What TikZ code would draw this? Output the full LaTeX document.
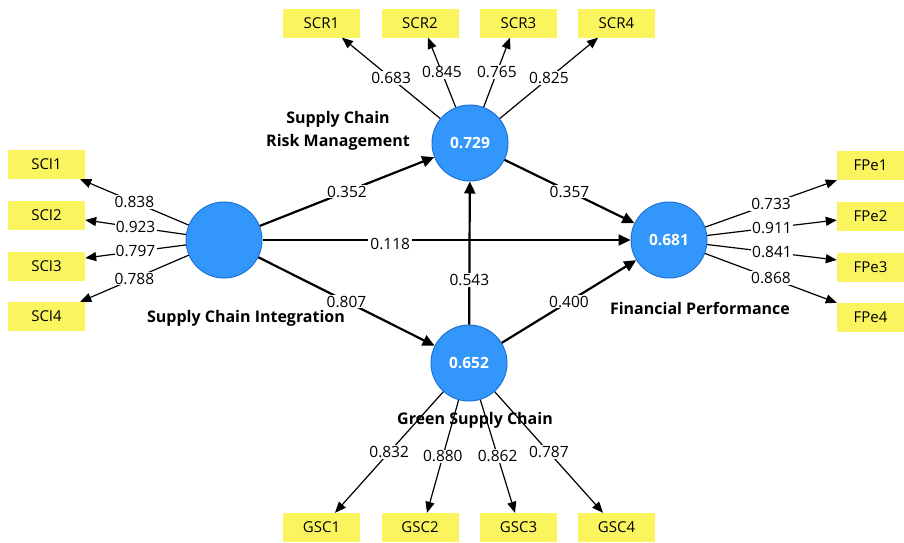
\documentclass[tikz,border=0pt]{standalone}
\usepackage{fontspec}
\setmainfont{Open Sans}
\usetikzlibrary{arrows.meta}
\definecolor{lvfill}{RGB}{50,150,250}
\definecolor{lvdraw}{RGB}{30,115,215}
\definecolor{mvfill}{RGB}{250,245,95}
\tikzset{
  lv/.style={circle, minimum size=76pt, inner sep=0pt, fill=lvfill, draw=lvdraw, line width=1pt,
    text=white, font=\fontsize{15.5}{18}\selectfont\bfseries},
  mv/.style={rectangle, minimum width=77pt, minimum height=29pt, inner sep=0pt, fill=mvfill,
    font=\fontsize{15}{18}\selectfont},
  mvr/.style={mv, minimum width=67pt},
  outer/.style={line width=1.2pt, -{Triangle[length=11pt,width=9pt]}},
  inner/.style={line width=2.2pt, -{Triangle[length=12pt,width=11pt]}},
  lbl/.style={fill=white, inner sep=1.2pt, font=\fontsize{15.5}{18}\selectfont},
  title/.style={font=\fontsize{16}{23}\selectfont\bfseries, align=center, inner sep=0pt}
}
\begin{document}
\begin{tikzpicture}[x=1pt,y=-1pt]
\useasboundingbox[fill=white] (0,0) rectangle (904,542);
% latent variables
\node[lv] (SCI) at (224,240) {};
\node[lv] (SCR) at (470,143) {0.729};
\node[lv] (FP) at (669,240) {0.681};
\node[lv] (GSC) at (469,363) {0.652};
% indicators
\node[mv] (SCI1) at (46.5,164.5) {SCI1};
\node[mv] (SCI2) at (46.5,215.5) {SCI2};
\node[mv] (SCI3) at (46.5,266) {SCI3};
\node[mv] (SCI4) at (46.5,316.5) {SCI4};
\node[mv] (SCR1) at (321.5,23) {SCR1};
\node[mv] (SCR2) at (420,23) {SCR2};
\node[mv] (SCR3) at (518.5,23) {SCR3};
\node[mv] (SCR4) at (616.5,23) {SCR4};
\node[mvr] (FPe1) at (870.5,165.5) {FPe1};
\node[mvr] (FPe2) at (870.5,216) {FPe2};
\node[mvr] (FPe3) at (870.5,267) {FPe3};
\node[mvr] (FPe4) at (870.5,317.5) {FPe4};
\node[mv] (GSC1) at (321.5,527.5) {GSC1};
\node[mv] (GSC2) at (420,527.5) {GSC2};
\node[mv] (GSC3) at (518.5,527.5) {GSC3};
\node[mv] (GSC4) at (616.5,527.5) {GSC4};
% outer loadings
\draw[outer] (SCI) -- node[lbl] (l1) {0.838} ([xshift=-5pt]SCI1.south east);
\draw[outer] (SCI) -- node[lbl] (l2) {0.923} ([yshift=-4.5pt]SCI2.east);
\draw[outer] (SCI) -- node[lbl] (l3) {0.797} ([yshift=8pt]SCI3.east);
\draw[outer] (SCI) -- node[lbl] (l4) {0.788} ([xshift=-5pt]SCI4.north east);
\draw[outer] (SCR) -- node[lbl] (l5) {0.683} ([xshift=20.5pt]SCR1.south);
\draw[outer] (SCR) -- node[lbl] (l6) {0.845} ([xshift=8pt]SCR2.south);
\draw[outer] (SCR) -- node[lbl] (l7) {0.765} ([xshift=-8.5pt]SCR3.south);
\draw[outer] (SCR) -- node[lbl] (l8) {0.825} ([xshift=-18.5pt]SCR4.south);
\draw[outer] (FP) -- node[lbl] (l9) {0.733} (FPe1.south west);
\draw[outer] (FP) -- node[lbl] (l10) {0.911} ([yshift=-4pt]FPe2.west);
\draw[outer] (FP) -- node[lbl] (l11) {0.841} ([yshift=7pt]FPe3.west);
\draw[outer] (FP) -- node[lbl] (l12) {0.868} (FPe4.north west);
\draw[outer] (GSC) -- node[lbl] (l13) {0.832} ([xshift=13.5pt]GSC1.north);
\draw[outer] (GSC) -- node[lbl] (l14) {0.880} ([xshift=7pt]GSC2.north);
\draw[outer] (GSC) -- node[lbl] (l15) {0.862} ([xshift=-3.5pt]GSC3.north);
\draw[outer] (GSC) -- node[lbl] (l16) {0.787} ([xshift=-13.5pt]GSC4.north);
% structural paths
\draw[inner] (SCI) -- node[lbl] (p1) {0.352} (SCR);
\draw[inner] (SCI) -- node[lbl, pos=0.347, yshift=-4pt, inner sep=2pt] (p2) {0.118} (FP);
\draw[inner] (SCI) -- node[lbl] (p3) {0.807} (GSC);
\draw[inner] (GSC) -- node[lbl, pos=0.31] (p4) {0.543} (SCR);
\draw[inner] (SCR) -- node[lbl] (p5) {0.357} (FP);
\draw[inner] (GSC) -- node[lbl] (p6) {0.400} (FP);
% construct names
\node[title] (tSCI) at (246,318) {Supply Chain Integration};
\node[title] (tSCR) at (338,131) {Supply Chain\\Risk Management};
\node[title] (tFP) at (700,308) {Financial Performance};
\node[title] (tGSC) at (475,420) {Green Supply Chain};
\end{tikzpicture}
\end{document}
